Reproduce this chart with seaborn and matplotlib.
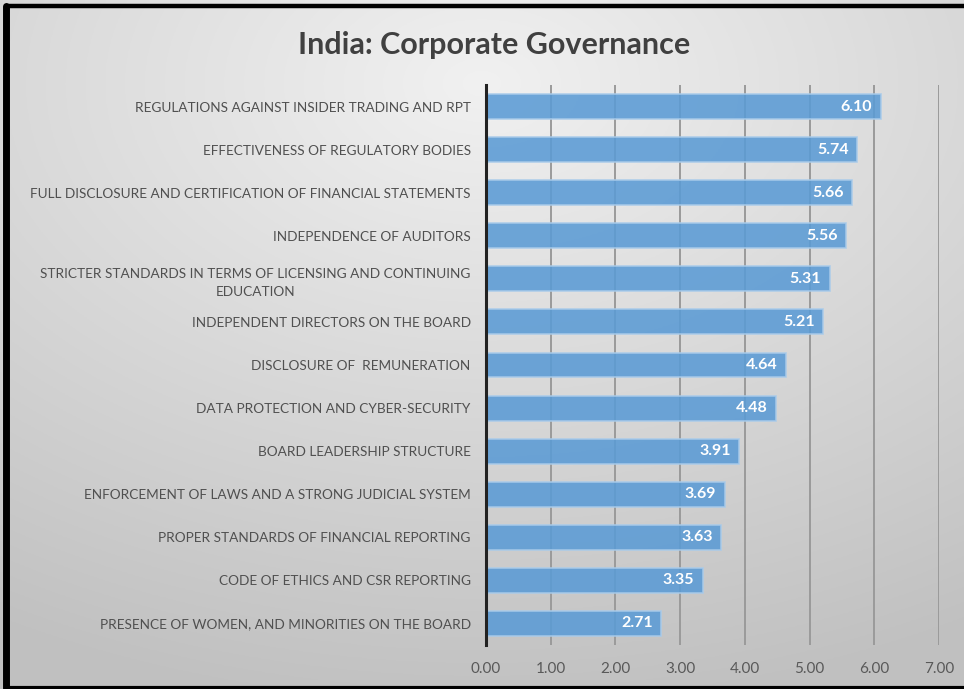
import numpy as np
import pandas as pd
import matplotlib
matplotlib.use("Agg")
import matplotlib.pyplot as plt
import seaborn as sns
from matplotlib.lines import Line2D

categories = [
    "REGULATIONS AGAINST INSIDER TRADING AND RPT",
    "EFFECTIVENESS OF REGULATORY BODIES",
    "FULL DISCLOSURE AND CERTIFICATION OF FINANCIAL STATEMENTS",
    "INDEPENDENCE OF AUDITORS",
    "STRICTER STANDARDS IN TERMS OF LICENSING AND CONTINUING\nEDUCATION",
    "INDEPENDENT DIRECTORS ON THE BOARD",
    "DISCLOSURE OF  REMUNERATION",
    "DATA PROTECTION AND CYBER-SECURITY",
    "BOARD LEADERSHIP STRUCTURE",
    "ENFORCEMENT OF LAWS AND A STRONG JUDICIAL SYSTEM",
    "PROPER STANDARDS OF FINANCIAL REPORTING",
    "CODE OF ETHICS AND CSR REPORTING",
    "PRESENCE OF WOMEN, AND MINORITIES ON THE BOARD",
]
values = [6.10, 5.74, 5.66, 5.56, 5.31, 5.21, 4.64, 4.48, 3.91, 3.69, 3.63, 3.35, 2.71]
xticks = [0, 1, 2, 3, 4, 5, 6, 7]
title = "India: Corporate Governance"

sns.set_theme(style="white")
plt.rcParams['font.family'] = ['Lato', 'DejaVu Sans']

W, H = 964, 689
fig = plt.figure(figsize=(W / 100, H / 100), dpi=100)
fig.patch.set_facecolor("white")

# background gradient
bg = fig.add_axes([0, 0, 1, 1], zorder=-10)
yy, xx = np.mgrid[0:1:300j, 0:1:400j]
d = np.sqrt(((xx - 0.5) * 1.0) ** 2 + ((yy - 0.12) * 1.1) ** 2)
g = 0.945 - 0.19 * np.clip(d / 1.0, 0, 1)
img = np.dstack([g, g, g])
bg.imshow(img, extent=[0, 1, 0, 1], origin="upper", aspect="auto")
bg.set_axis_off()

# border lines (figure coords)
fig.add_artist(Line2D([6 / W, 1], [1 - 6 / H, 1 - 6 / H], color="black", lw=3.2, transform=fig.transFigure))
fig.add_artist(Line2D([6 / W, 6 / W], [1 - 6 / H, 1.5 / H], color="black", lw=5, transform=fig.transFigure))
fig.add_artist(Line2D([6 / W, 1], [1.5 / H, 1.5 / H], color="black", lw=3, transform=fig.transFigure))

ax = fig.add_axes([486 / W, 1 - 645 / H, (939 - 486) / W, (645 - 85) / H])
ax.set_facecolor("none")

df = pd.DataFrame({"cat": categories, "val": values})
sns.barplot(data=df, x="val", y="cat", orient="h", color="#5b9bd5", width=0.58,
            saturation=1, alpha=0.88, edgecolor="#a9cbea", linewidth=1.2, ax=ax, zorder=3)

ax.set_xlim(0, 7)
ax.set_ylim(12.5, -0.5)
ax.set_xticks(xticks)
ax.set_xticklabels([f"{t:.2f}" for t in xticks])
ax.grid(axis="x", color="#9a9a9a", lw=1.4, zorder=0)
ax.set_axisbelow(True)
for s in ["top", "right", "bottom"]:
    ax.spines[s].set_visible(False)
ax.spines["left"].set_color("#222222")
ax.spines["left"].set_linewidth(2.2)
ax.spines["left"].set_zorder(5)
ax.tick_params(axis="x", length=0, pad=12, labelsize=11, labelcolor="#595959")
ax.tick_params(axis="y", length=0, pad=11, labelsize=9.8, labelcolor="#505050")
for lab in ax.get_yticklabels():
    lab.set_multialignment("center")
    lab.set_linespacing(1.65)
ax.set_xlabel("")
ax.set_ylabel("")

for i, v in enumerate(values):
    ax.text(v - 0.13, i, f"{v:.2f}", ha="right", va="center", color="white",
            fontsize=11.5, fontweight="bold", zorder=6)

fig.text(494 / W, 1 - 45 / H, title, ha="center", va="center", fontsize=22,
         fontweight="bold", color="#404040")

fig.savefig("out.png", dpi=100)
